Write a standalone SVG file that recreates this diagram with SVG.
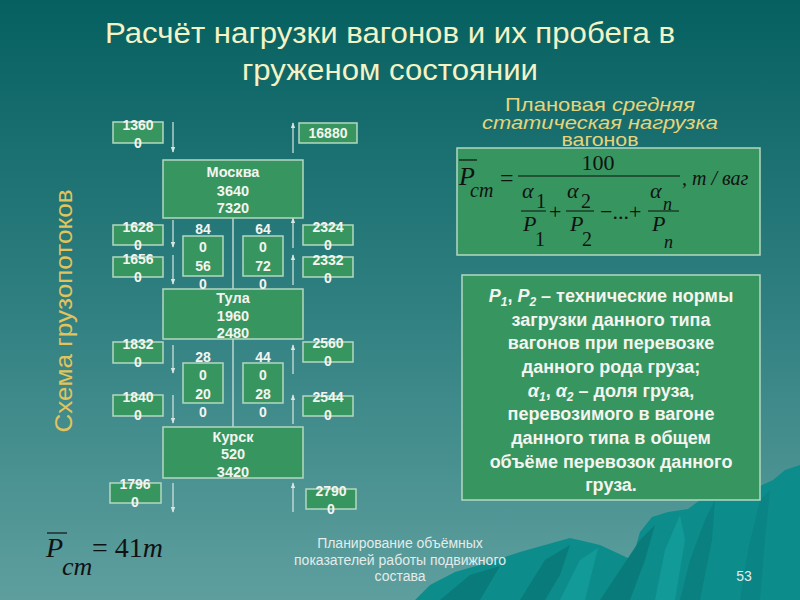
<svg xmlns="http://www.w3.org/2000/svg" width="800" height="600" viewBox="0 0 800 600">
<defs>
<linearGradient id="bg" x1="0" y1="0" x2="0" y2="1">
<stop offset="0" stop-color="#066060"/>
<stop offset="0.5" stop-color="#2f7f80"/>
<stop offset="1" stop-color="#5e9f9e"/>
</linearGradient>
<marker id="ah" viewBox="0 0 8 8" refX="7" refY="4" markerWidth="6" markerHeight="6" orient="auto" markerUnits="userSpaceOnUse">
<path d="M0,1 L8,4 L0,7 Z" fill="#d8e6e2"/>
</marker>
<style>
.box{fill:#37965f;stroke:#b4d8c2;stroke-width:1.5}
.n{font-family:"Liberation Sans",Arial,sans-serif;font-weight:bold;font-size:14px;fill:#f4f4f0;text-anchor:middle}
.st{font-family:"Liberation Sans",Arial,sans-serif;font-weight:bold;font-size:14.5px;fill:#f4f4f0;text-anchor:middle}
.ar{stroke:#d8e6e2;stroke-width:1.2;fill:none;marker-end:url(#ah)}
.ln{stroke:#c8dcd6;stroke-width:1.4;fill:none}
.ti{font-family:"Liberation Sans",Arial,sans-serif;font-size:29px;fill:#f3f3c6;text-anchor:middle}
.hd{font-family:"Liberation Sans",Arial,sans-serif;font-size:18.5px;fill:#e6d47c;text-anchor:middle}
.tb{font-family:"Liberation Sans",Arial,sans-serif;font-weight:bold;font-size:18px;fill:#f4f4f0;text-anchor:middle}
.fm{font-family:"Liberation Serif","Times New Roman",serif;fill:#111}
.it{font-style:italic}
.ft{font-family:"Liberation Sans",Arial,sans-serif;font-size:14px;fill:#e2ecea;text-anchor:middle}
</style>
</defs>
<rect x="0" y="0" width="800" height="600" fill="url(#bg)"/>
<g id="mountains">
<path d="M415,600 L430,585 L455,572 L490,562 L520,552 L545,545 L570,538 L600,545 L615,552 L632,560 L640,532 L652,517 L668,512 L688,509 L700,500 L712,492 L735,488 L760,486 L773,480 L785,470 L800,465 L800,600 Z" fill="#0c8d8c"/>
<path d="M440,600 L470,575 L500,566 L480,600 Z" fill="#097b7b"/>
<path d="M520,600 L545,560 L570,545 L560,575 L545,600 Z" fill="#097b7b"/>
<path d="M600,600 L620,570 L640,540 L655,525 L645,560 L630,600 Z" fill="#097b7b"/>
<path d="M680,600 L690,560 L705,520 L715,500 L712,540 L700,600 Z" fill="#0a8080"/>
<path d="M740,600 L748,550 L760,500 L770,490 L765,540 L760,600 Z" fill="#0a8484"/>
<path d="M560,600 L580,560 L598,548 L590,580 L585,600 Z" fill="#119a98"/>
<path d="M655,600 L665,550 L680,515 L685,540 L675,600 Z" fill="#119a98"/>
</g>
<g id="title">
<text class="ti" x="390" y="43" textLength="570" lengthAdjust="spacingAndGlyphs">Расчёт нагрузки вагонов и их пробега в</text>
<text class="ti" x="390" y="80" textLength="296" lengthAdjust="spacingAndGlyphs">груженом состоянии</text>
</g>
<g id="side-label">
<text transform="translate(72,311) rotate(-90)" font-family="'Liberation Sans',Arial,sans-serif" font-size="24" fill="#e2c45c" text-anchor="middle" textLength="243" lengthAdjust="spacingAndGlyphs">Схема грузопотоков</text>
</g>
<g id="connectors">
<line class="ln" x1="233" y1="218" x2="233" y2="427"/>
<line class="ar" x1="173" y1="122" x2="173" y2="152"/>
<line class="ar" x1="173" y1="220" x2="173" y2="247"/>
<line class="ar" x1="173" y1="255" x2="173" y2="284"/>
<line class="ar" x1="173" y1="345" x2="173" y2="373"/>
<line class="ar" x1="173" y1="395" x2="173" y2="423"/>
<line class="ar" x1="173" y1="483" x2="173" y2="512"/>
<line class="ar" x1="293" y1="153" x2="293" y2="123"/>
<line class="ar" x1="293" y1="248" x2="293" y2="218"/>
<line class="ar" x1="293" y1="285" x2="293" y2="255"/>
<line class="ar" x1="293" y1="374" x2="293" y2="345"/>
<line class="ar" x1="293" y1="424" x2="293" y2="395"/>
<line class="ar" x1="293" y1="512" x2="293" y2="483"/>
</g>
<g id="moskva">
<rect class="box" x="163" y="160" width="140" height="58"/>
<text class="st" x="233" y="177">Москва</text>
<text class="st" x="233" y="196">3640</text>
<text class="st" x="233" y="213">7320</text>
</g>
<g id="tula">
<rect class="box" x="163" y="289" width="140" height="50"/>
<text class="st" x="233" y="303">Тула</text>
<text class="st" x="233" y="321">1960</text>
<text class="st" x="233" y="338">2480</text>
</g>
<g id="kursk">
<rect class="box" x="163" y="427" width="140" height="51"/>
<text class="st" x="233" y="442">Курск</text>
<text class="st" x="233" y="459">520</text>
<text class="st" x="233" y="477">3420</text>
</g>
<g id="n13600"><rect class="box" x="113" y="122" width="50" height="21"/><text class="n" x="138" y="130">1360</text><text class="n" x="138" y="148">0</text></g>
<g id="n16280"><rect class="box" x="113" y="225" width="50" height="20"/><text class="n" x="138" y="232">1628</text><text class="n" x="138" y="250">0</text></g>
<g id="n16560"><rect class="box" x="113" y="257" width="50" height="20"/><text class="n" x="138" y="264">1656</text><text class="n" x="138" y="282">0</text></g>
<g id="n18320"><rect class="box" x="113" y="342" width="50" height="21"/><text class="n" x="138" y="349">1832</text><text class="n" x="138" y="367">0</text></g>
<g id="n18400"><rect class="box" x="113" y="395" width="50" height="21"/><text class="n" x="138" y="402">1840</text><text class="n" x="138" y="420">0</text></g>
<g id="n17960"><rect class="box" x="110" y="483" width="51" height="20"/><text class="n" x="135" y="489">1796</text><text class="n" x="135" y="507">0</text></g>
<g id="n16880"><rect class="box" x="299" y="123" width="58" height="20"/><text class="n" x="328" y="138">16880</text></g>
<g id="n23240"><rect class="box" x="303" y="225" width="50" height="20"/><text class="n" x="328" y="232">2324</text><text class="n" x="328" y="250">0</text></g>
<g id="n23320"><rect class="box" x="303" y="257" width="50" height="20"/><text class="n" x="328" y="265">2332</text><text class="n" x="328" y="283">0</text></g>
<g id="n25600"><rect class="box" x="303" y="342" width="50" height="20"/><text class="n" x="328" y="348">2560</text><text class="n" x="328" y="366">0</text></g>
<g id="n25440"><rect class="box" x="303" y="396" width="50" height="20"/><text class="n" x="328" y="402">2544</text><text class="n" x="328" y="420">0</text></g>
<g id="n27900"><rect class="box" x="306" y="489" width="50" height="20"/><text class="n" x="331" y="496">2790</text><text class="n" x="331" y="514">0</text></g>
<g id="n840560"><rect class="box" x="183" y="236" width="40" height="40"/><text class="n" x="203" y="234">84</text><text class="n" x="203" y="252">0</text><text class="n" x="203" y="271">56</text><text class="n" x="203" y="289">0</text></g>
<g id="n640720"><rect class="box" x="243" y="236" width="40" height="40"/><text class="n" x="263" y="234">64</text><text class="n" x="263" y="252">0</text><text class="n" x="263" y="271">72</text><text class="n" x="263" y="289">0</text></g>
<g id="n280200"><rect class="box" x="183" y="363" width="40" height="40"/><text class="n" x="203" y="362">28</text><text class="n" x="203" y="380">0</text><text class="n" x="203" y="399">20</text><text class="n" x="203" y="417">0</text></g>
<g id="n440280"><rect class="box" x="243" y="363" width="40" height="40"/><text class="n" x="263" y="362">44</text><text class="n" x="263" y="380">0</text><text class="n" x="263" y="399">28</text><text class="n" x="263" y="417">0</text></g>
<g id="heading">
<text class="hd" x="600" y="111" textLength="190" lengthAdjust="spacingAndGlyphs">Плановая <tspan font-style="italic">средняя</tspan></text>
<text class="hd" x="600" y="129" font-style="italic" textLength="236" lengthAdjust="spacingAndGlyphs">статическая нагрузка</text>
<text class="hd" x="600" y="146" textLength="77" lengthAdjust="spacingAndGlyphs">вагонов</text>
</g>
<g id="formula">
<rect class="box" x="457" y="148" width="303" height="107"/>
<line x1="459" y1="160" x2="477" y2="160" stroke="#111" stroke-width="1.2"/>
<text class="fm it" x="459" y="185" font-size="26">P</text>
<text class="fm it" x="470" y="197" font-size="20">ст</text>
<text class="fm" x="500" y="186" font-size="24">=</text>
<text class="fm" x="598" y="170" font-size="22" text-anchor="middle">100</text>
<line x1="518" y1="176" x2="680" y2="176" stroke="#111" stroke-width="1"/>
<text class="fm it" x="682" y="185" font-size="20">, т / ваг</text>
<text class="fm it" x="522" y="198" font-size="22">α</text>
<text class="fm" x="536" y="208" font-size="20">1</text>
<line x1="521" y1="211" x2="546" y2="211" stroke="#111" stroke-width="1"/>
<text class="fm it" x="523" y="231" font-size="22">P</text>
<text class="fm" x="535" y="246" font-size="20">1</text>
<text class="fm" x="549" y="219" font-size="22">+</text>
<text class="fm it" x="567" y="198" font-size="22">α</text>
<text class="fm" x="581" y="208" font-size="20">2</text>
<line x1="566" y1="211" x2="594" y2="211" stroke="#111" stroke-width="1"/>
<text class="fm it" x="570" y="231" font-size="22">P</text>
<text class="fm" x="582" y="246" font-size="20">2</text>
<text class="fm" x="600" y="219" font-size="22">−...+</text>
<text class="fm it" x="650" y="198" font-size="22">α</text>
<text class="fm it" x="663" y="210" font-size="18">n</text>
<line x1="648" y1="211" x2="679" y2="211" stroke="#111" stroke-width="1"/>
<text class="fm it" x="652" y="231" font-size="22">P</text>
<text class="fm it" x="664" y="248" font-size="18">n</text>
</g>
<g id="description">
<rect class="box" x="462" y="275" width="298" height="225"/>
<text class="tb" x="611" y="302"><tspan font-style="italic">P</tspan><tspan font-style="italic" font-size="12" dy="4">1</tspan><tspan dy="-4">, </tspan><tspan font-style="italic">P</tspan><tspan font-style="italic" font-size="12" dy="4">2</tspan><tspan dy="-4"> – технические нормы</tspan></text>
<text class="tb" x="611" y="326">загрузки данного типа</text>
<text class="tb" x="611" y="349">вагонов при перевозке</text>
<text class="tb" x="611" y="373">данного рода груза;</text>
<text class="tb" x="611" y="397"><tspan font-style="italic">α</tspan><tspan font-style="italic" font-size="12" dy="4">1</tspan><tspan dy="-4">, </tspan><tspan font-style="italic">α</tspan><tspan font-style="italic" font-size="12" dy="4">2</tspan><tspan dy="-4"> – доля груза,</tspan></text>
<text class="tb" x="611" y="420">перевозимого в вагоне</text>
<text class="tb" x="611" y="444">данного типа в общем</text>
<text class="tb" x="611" y="468">объёме перевозок данного</text>
<text class="tb" x="611" y="491">груза.</text>
</g>
<g id="result">
<line x1="47" y1="533" x2="67" y2="533" stroke="#111" stroke-width="1.2"/>
<text class="fm it" x="46" y="557" font-size="28">P</text>
<text class="fm it" x="62" y="575" font-size="26">ст</text>
<text class="fm" x="92" y="557" font-size="28">= 41<tspan font-style="italic">т</tspan></text>
</g>
<g id="footer">
<text class="ft" x="400" y="548">Планирование объёмных</text>
<text class="ft" x="400" y="565">показателей работы подвижного</text>
<text class="ft" x="400" y="581">состава</text>
<text class="ft" x="744" y="581">53</text>
</g>
</svg>
